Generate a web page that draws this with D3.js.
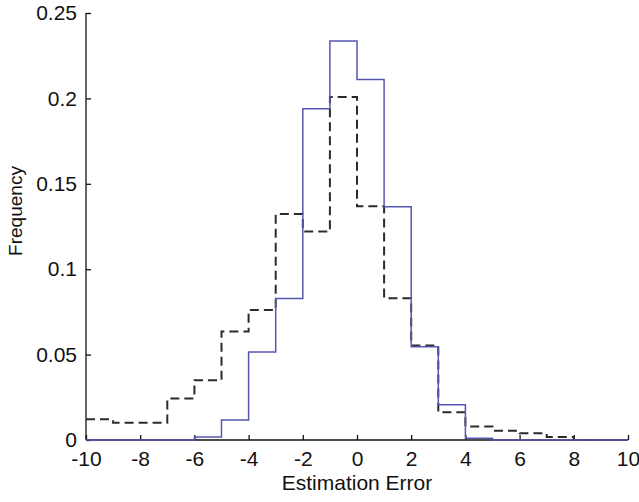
<!DOCTYPE html>
<html>
<head>
<meta charset="utf-8">
<script src="https://cdn.jsdelivr.net/npm/d3@7"></script>
<style>
  html, body { margin: 0; padding: 0; background: #fff; }
  svg text { font-family: "Liberation Sans", Arial, Helvetica, sans-serif; fill: #111; }
</style>
</head>
<body>
<svg id="chart" width="639" height="502"></svg>
<script>
// Histogram bins of width 1 from -10 to 10 (left edges)
const binEdges = d3.range(-10, 11, 1);

// Frequency per bin, solid blue series
const solidSeries = [
  0, 0, 0, 0, 0.0018, 0.0117, 0.0515, 0.0828, 0.1940, 0.2336,
  0.2110, 0.1366, 0.0546, 0.0206, 0.0010, 0, 0, 0, 0, 0
];

// Frequency per bin, dashed black series
const dashedSeries = [
  0.0121, 0.0101, 0.0101, 0.0243, 0.0350, 0.0635, 0.0761, 0.1323, 0.1220, 0.2008,
  0.1368, 0.0830, 0.0554, 0.0162, 0.0079, 0.0054, 0.0039, 0.0018, 0, 0
];

const xTicks = [-10, -8, -6, -4, -2, 0, 2, 4, 6, 8, 10];
const xTickLabels = ["-10", "-8", "-6", "-4", "-2", "0", "2", "4", "6", "8", "10"];
const yTicks = [0, 0.05, 0.1, 0.15, 0.2, 0.25];
const yTickLabels = ["0", "0.05", "0.1", "0.15", "0.2", "0.25"];

const svg = d3.select("#chart");
const margin = { left: 86, right: 11, top: 13, bottom: 62 };
const W = 639, H = 502;
const fontSize = 21;

const x = d3.scaleLinear().domain([-10, 10]).range([margin.left, W - margin.right]);
const y = d3.scaleLinear().domain([0, 0.25]).range([H - margin.bottom, margin.top]);

// Axes: ticks point inward
const xAxis = d3.axisBottom(x).tickValues(xTicks).tickSize(-5).tickPadding(11)
  .tickFormat((d, i) => xTickLabels[i]);
const yAxis = d3.axisLeft(y).tickValues(yTicks).tickSize(-5).tickPadding(9)
  .tickFormat((d, i) => yTickLabels[i]);

const gx = svg.append("g").attr("transform", `translate(0,${y(0)})`).call(xAxis);
const gy = svg.append("g").attr("transform", `translate(${x(-10)},0)`).call(yAxis);

[gx, gy].forEach(g => {
  g.select(".domain").attr("stroke", "#111").attr("stroke-width", 1.3);
  g.selectAll(".tick line").attr("stroke", "#111").attr("stroke-width", 1.3);
  g.selectAll(".tick text").attr("font-size", fontSize)
    .attr("font-family", "Liberation Sans, Arial, sans-serif").attr("fill", "#111");
});
gx.select(".domain").attr("d", `M${x(-10)},0H${x(10)}`);
gy.select(".domain").attr("d", `M0,${y(0.25)}V${y(0)}`);

// Step outline of a histogram: one point per bin edge, last value repeated
function stairs(values) {
  const pts = values.map((v, i) => [binEdges[i], v]);
  pts.push([binEdges[values.length], values[values.length - 1]]);
  return pts;
}
const line = d3.line().x(d => x(d[0])).y(d => y(d[1])).curve(d3.curveStepAfter);

svg.append("path")
  .datum(stairs(dashedSeries))
  .attr("d", line)
  .attr("fill", "none")
  .attr("stroke", "#2b2b2b")
  .attr("stroke-width", 2)
  .attr("stroke-dasharray", "9,5");

svg.append("path")
  .datum(stairs(solidSeries))
  .attr("d", line)
  .attr("fill", "none")
  .attr("stroke", "#5656b0")
  .attr("stroke-width", 1.5);

// Axis titles
svg.append("text")
  .attr("x", x(0)).attr("y", 490)
  .attr("text-anchor", "middle").attr("font-size", fontSize)
  .text("Estimation Error");

svg.append("text")
  .attr("transform", `translate(22,211) rotate(-90)`)
  .attr("text-anchor", "middle").attr("font-size", 19)
  .attr("font-family", "Liberation Sans Narrow, Liberation Sans, Arial, sans-serif")
  .text("Frequency");
</script>
</body>
</html>
